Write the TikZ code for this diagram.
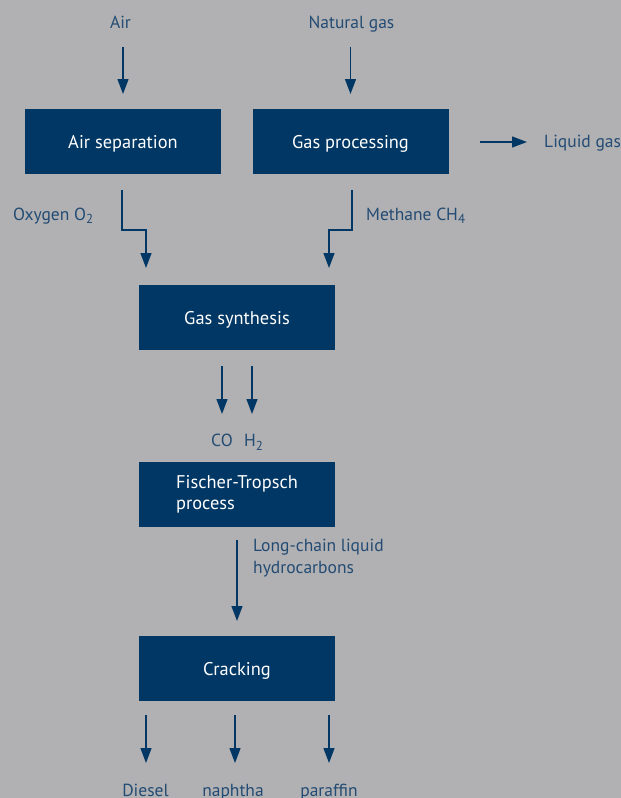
\documentclass[tikz,border=0pt]{standalone}
\usepackage{fontspec}
\setmainfont{PT Sans}
\usetikzlibrary{arrows.meta}
\definecolor{bg}{RGB}{177,177,179}
\definecolor{boxblue}{RGB}{0,55,100}
\definecolor{txtblue}{RGB}{35,75,115}
\newcommand{\subtxt}[1]{\raisebox{-3.5pt}{\fontsize{13}{13}\selectfont #1}}
\begin{document}
\begin{tikzpicture}[x=1pt,y=-1pt,
  box/.style={fill=boxblue,draw=none,minimum width=196pt,minimum height=65pt,inner sep=0pt,text=white,font=\fontsize{18.4}{21.5}\selectfont,text height=13pt,text depth=0pt},
  box2/.style={fill=boxblue,draw=none,minimum width=196pt,minimum height=65pt,inner sep=0pt,text=white,font=\fontsize{18.4}{21.5}\selectfont,align=left},
  lbl/.style={text=txtblue,font=\fontsize{17.5}{21.5}\selectfont,inner sep=0pt},
  arr/.style={draw=boxblue,line width=1.3pt,-{Triangle[width=11pt,length=15pt]}}]
\fill[bg] (0,0) rectangle (621,798);
\useasboundingbox (0,0) rectangle (621,798);
% labels
\node[lbl,anchor=base] (air) at (120.5,28) {Air};
\node[lbl,anchor=base] (ng) at (351.5,28) {Natural gas};
% boxes
\node[box] (airsep) at (123,141.5) {Air separation};
\node[box] (gasproc) at (350.5,141.5) {Gas processing};
\node[box] (gsyn) at (237,317.5) {Gas synthesis};
\node[box2] (ft) at (237,494.5) {Fischer-Tropsch\\process};
\node[box] (crack) at (237,668.5) {Cracking};
% side labels
\node[lbl,anchor=base west] (lgas) at (544,147) {Liquid gas};
\node[lbl,anchor=base west] (oxy) at (13,220) {Oxygen O\subtxt{2}};
\node[lbl,anchor=base west] (meth) at (366,220) {Methane CH\subtxt{4}};
\node[lbl,anchor=base] (co) at (222,446.5) {CO};
\node[lbl,anchor=base west] (h2) at (244,446.5) {H\subtxt{2}};
\node[lbl,anchor=base west,align=left] (lc) at (253,573) {Long-chain liquid\\hydrocarbons};
\node[lbl,anchor=base] (diesel) at (145.5,796) {Diesel};
\node[lbl,anchor=base] (naph) at (233,796) {naphtha};
\node[lbl,anchor=base] (paraf) at (329,796) {paraffin};
% coordinates for arrows
\coordinate (a1) at (123,47); \coordinate (a2) at (123,94);
\coordinate (n1) at (350.5,47); \coordinate (n2) at (350.5,94);
\coordinate (l1) at (480,142); \coordinate (l2) at (527,142);
\coordinate (o1) at (122,190); \coordinate (o2) at (146,230); \coordinate (o3) at (146,268);
\coordinate (m1) at (352,190); \coordinate (m2) at (329,230); \coordinate (m3) at (329,268);
\coordinate (c1) at (222,366); \coordinate (c2) at (222,414);
\coordinate (h1) at (252,366); \coordinate (h3) at (252,414);
\coordinate (f1) at (237,540); \coordinate (f2) at (237,621);
\coordinate (d1) at (146,715); \coordinate (d2) at (146,763);
\coordinate (p1) at (235,715); \coordinate (p2) at (235,763);
\coordinate (q1) at (329,715); \coordinate (q2) at (329,763);
% arrows
\draw[arr] (a1) -- (a2);
\draw[arr] (n1) -- (n2);
\draw[arr] (l1) -- (l2);
\draw[arr] (o1) |- (o2) -- (o3);
\draw[arr] (m1) |- (m2) -- (m3);
\draw[arr] (c1) -- (c2);
\draw[arr] (h1) -- (h3);
\draw[arr] (f1) -- (f2);
\draw[arr] (d1) -- (d2);
\draw[arr] (p1) -- (p2);
\draw[arr] (q1) -- (q2);
\end{tikzpicture}
\end{document}
